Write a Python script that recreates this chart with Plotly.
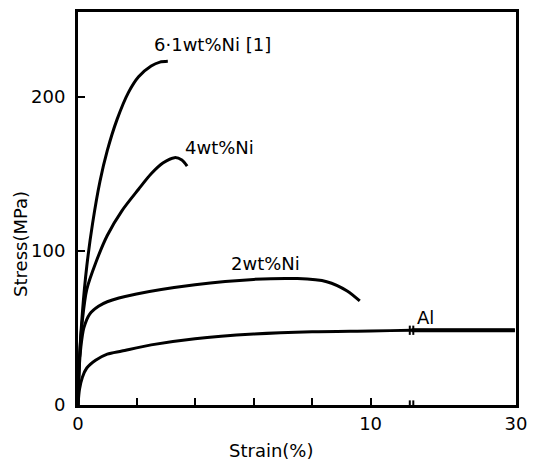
import plotly.graph_objects as go

# ---- data (strain %, stress MPa) ----
al_strain = [0, 0.05, 0.15, 0.3, 0.6, 1.0, 1.5, 2.5, 4.0, 6.0, 8.0, 10.0, 11.4, 20.0, 29.8]
al_stress = [0, 10, 18, 24, 29, 33, 35, 39, 43, 46, 47.5, 48, 48.5, 48.5, 48.5]

ni2_strain = [0, 0.03, 0.1, 0.2, 0.4, 0.7, 1.0, 2.0, 4.0, 6.0, 7.5, 8.5, 9.2, 9.63]
ni2_stress = [0, 20, 38, 50, 59, 64, 67, 72, 78, 81.5, 82, 80, 74, 67.5]

ni4_strain = [0, 0.05, 0.15, 0.3, 0.6, 1.0, 1.5, 2.07, 2.5, 2.9, 3.3, 3.55, 3.73]
ni4_stress = [0, 30, 55, 75, 92, 110, 126, 140, 150, 157, 160.5, 159, 155]

ni61_strain = [0, 0.05, 0.15, 0.3, 0.5, 0.75, 1.0, 1.33, 1.73, 2.07, 2.5, 2.8, 3.07]
ni61_stress = [0, 30, 60, 90, 118, 145, 165, 185, 203, 213, 220, 222.5, 223]

labels = ["6·1wt%Ni [1]", "4wt%Ni", "2wt%Ni", "Al"]
label_strain = [4.6, 4.85, 6.4, 13.9]
label_stress = [234, 167, 92, 57]

x_ticks = [0, 2, 4, 6, 8, 10, 30]
x_ticktext = ["0", "", "", "", "", "10", "30"]
y_ticks = [0, 100, 200]

# broken axis: 0-10 linear, break, then compressed up to 30
BREAK_D = 11.4
END_D = 14.97
AFTER_S = 11.4


def tx(s):
    if s <= BREAK_D:
        return s
    return BREAK_D + (s - AFTER_S) * (END_D - BREAK_D) / (30 - AFTER_S)


fig = go.Figure()
line_style = dict(color="black", width=3, shape="spline", smoothing=0.8)
for xs, ys in [(al_strain, al_stress), (ni2_strain, ni2_stress),
               (ni4_strain, ni4_stress), (ni61_strain, ni61_stress)]:
    fig.add_trace(go.Scatter(x=[tx(v) for v in xs], y=ys, mode="lines",
                             line=line_style, showlegend=False, hoverinfo="skip"))

# thicker Al segment after the axis break
post = [i for i, v in enumerate(al_strain) if v >= AFTER_S]
fig.add_trace(go.Scatter(x=[tx(al_strain[i]) for i in post], y=[al_stress[i] for i in post],
                         mode="lines", line=dict(color="black", width=4),
                         showlegend=False, hoverinfo="skip"))

font = dict(family="DejaVu Sans, sans-serif", size=18, color="black")
for t, x, y in zip(labels, label_strain, label_stress):
    fig.add_annotation(x=tx(x), y=y, text=t, showarrow=False, font=font,
                       xanchor="center", yanchor="middle")

# axis titles
fig.add_annotation(xref="paper", yref="paper", x=0.44, y=-0.115, text="Strain(%)",
                   showarrow=False, font=font, xanchor="center", yanchor="middle")
fig.add_annotation(xref="paper", yref="paper", x=-0.13, y=0.41, text="Stress(MPa)",
                   showarrow=False, font=font, textangle=-90,
                   xanchor="center", yanchor="middle")

# break marks on the bottom axis and on the Al curve
for dx in (-0.06, 0.06):
    fig.add_shape(type="line", x0=BREAK_D + dx, x1=BREAK_D + dx, y0=-3, y1=3,
                  line=dict(color="black", width=2))
    fig.add_shape(type="line", x0=BREAK_D + dx, x1=BREAK_D + dx, y0=45.5, y1=51.5,
                  line=dict(color="black", width=2))

fig.update_xaxes(range=[0, END_D], tickvals=[tx(v) for v in x_ticks], ticktext=x_ticktext,
                 ticks="inside", ticklen=7, tickwidth=2, tickcolor="black",
                 showline=True, linewidth=3, linecolor="black", mirror=True,
                 showgrid=False, zeroline=False, tickfont=font)
fig.update_yaxes(range=[0, 255], tickvals=y_ticks,
                 ticks="inside", ticklen=7, tickwidth=2, tickcolor="black",
                 showline=True, linewidth=3, linecolor="black", mirror=True,
                 showgrid=False, zeroline=False, tickfont=font, ticklabelstandoff=6)
fig.update_layout(width=536, height=465, margin=dict(l=78, r=9, t=12, b=60),
                  plot_bgcolor="white", paper_bgcolor="white")
fig.write_html("out.html")
